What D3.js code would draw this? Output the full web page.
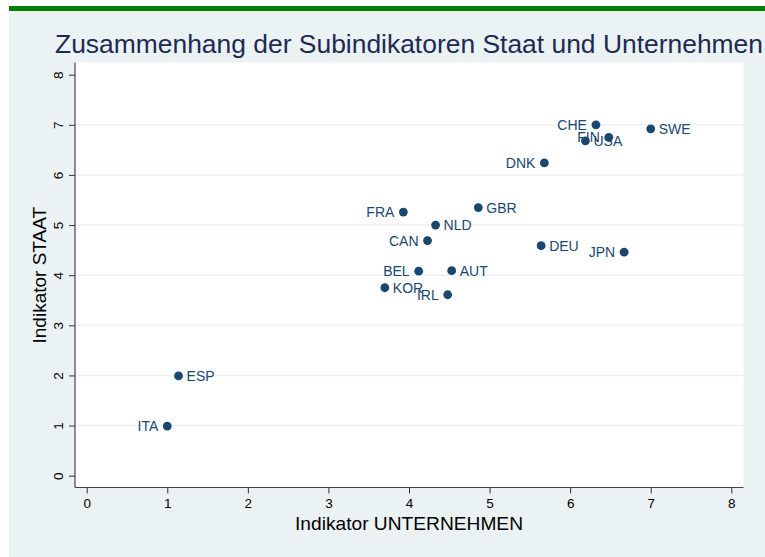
<!DOCTYPE html>
<html>
<head>
<meta charset="utf-8">
<script src="https://cdn.jsdelivr.net/npm/d3@7"></script>
<style>
  html, body { margin: 0; padding: 0; background: #ffffff; }
  svg { display: block; font-family: "Liberation Sans", Arial, sans-serif; }
</style>
</head>
<body>
<svg id="chart" width="765" height="557"></svg>
<script>
// Country codes and their two sub-indicator scores
const countries = ["CHE", "SWE", "FIN", "USA", "DNK", "FRA", "GBR", "NLD", "CAN",
                   "DEU", "JPN", "BEL", "AUT", "KOR", "IRL", "ESP", "ITA"];
const unternehmen = [6.32, 7.00, 6.48, 6.19, 5.68, 3.93, 4.86, 4.33, 4.23,
                     5.64, 6.67, 4.12, 4.53, 3.70, 4.48, 1.14, 1.00];
const staat = [7.00, 6.92, 6.75, 6.68, 6.24, 5.26, 5.35, 5.00, 4.69,
               4.59, 4.46, 4.08, 4.09, 3.75, 3.61, 1.99, 0.99];
// Which side of the marker each country label sits on
const labelSide = ["left", "right", "left", "right", "left", "left", "right", "right", "left",
                   "right", "left", "left", "right", "right", "left", "right", "left"];
const xTicks = [0, 1, 2, 3, 4, 5, 6, 7, 8];
const yTicks = [0, 1, 2, 3, 4, 5, 6, 7, 8];
const gridValues = [1, 2, 3, 4, 5, 6, 7];

const titleText = "Zusammenhang der Subindikatoren Staat und Unternehmen";
const xTitle = "Indikator UNTERNEHMEN";
const yTitle = "Indikator STAAT";

const markColor = "#1a476f";
const bgColor = "#eaf2f3";

const svg = d3.select("#chart");

// graph region and top rule
svg.append("rect").attr("x", 9).attr("y", 11).attr("width", 756).attr("height", 546).attr("fill", bgColor);
svg.append("rect").attr("x", 9).attr("y", 6).attr("width", 756).attr("height", 5).attr("fill", "#008000");

// plot region
const plot = { left: 75, right: 743.5, top: 62.5, bottom: 487.5 };
svg.append("rect")
  .attr("x", plot.left).attr("y", plot.top)
  .attr("width", plot.right - plot.left).attr("height", plot.bottom - plot.top)
  .attr("fill", "#ffffff");

const x = d3.scaleLinear().domain([0, 8]).range([86.7, 731.3]);
const y = d3.scaleLinear().domain([0, 8]).range([475.7, 74.7]);

// horizontal grid
svg.append("g").selectAll("line").data(gridValues).join("line")
  .attr("x1", plot.left).attr("x2", plot.right)
  .attr("y1", d => y(d)).attr("y2", d => y(d))
  .attr("stroke", bgColor).attr("stroke-width", 1.5);

// x axis
const xAxis = svg.append("g")
  .attr("transform", `translate(0,${plot.bottom})`)
  .call(d3.axisBottom(x).tickValues(xTicks).tickFormat(d3.format("d")).tickSize(6).tickPadding(5).tickSizeOuter(0));
xAxis.select(".domain").remove();
xAxis.append("line").attr("x1", plot.left).attr("x2", plot.right).attr("y1", 0).attr("y2", 0)
  .attr("stroke", "#444").attr("stroke-width", 1.2);
xAxis.selectAll(".tick line").attr("stroke", "#333");
xAxis.selectAll(".tick text").attr("fill", "#000").style("font-size", "13.5px")
  .style("font-family", "'Liberation Sans', Arial, sans-serif");

// y axis
const yAxis = svg.append("g")
  .attr("transform", `translate(${plot.left},0)`)
  .call(d3.axisLeft(y).tickValues(yTicks).tickFormat(d3.format("d")).tickSize(6).tickSizeOuter(0));
yAxis.select(".domain").remove();
yAxis.append("line").attr("x1", 0).attr("x2", 0).attr("y1", plot.top).attr("y2", plot.bottom)
  .attr("stroke", "#444").attr("stroke-width", 1.2);
yAxis.selectAll(".tick line").attr("stroke", "#333");
yAxis.selectAll(".tick text")
  .attr("x", 0).attr("dy", null).attr("dx", null)
  .attr("text-anchor", "middle")
  .attr("transform", "translate(-17,0) rotate(-90)")
  .attr("dominant-baseline", "central")
  .attr("fill", "#000").style("font-size", "13.5px")
  .style("font-family", "'Liberation Sans', Arial, sans-serif");

// axis titles
svg.append("text")
  .attr("x", (x(0) + x(8)) / 2).attr("y", 530)
  .attr("text-anchor", "middle").attr("fill", "#000")
  .style("font-size", "19px")
  .attr("textLength", 228).attr("lengthAdjust", "spacingAndGlyphs")
  .text(xTitle);
svg.append("text")
  .attr("transform", `translate(46,${(y(0) + y(8)) / 2}) rotate(-90)`)
  .attr("text-anchor", "middle").attr("fill", "#000")
  .style("font-size", "19px")
  .text(yTitle);

// chart title
svg.append("text")
  .attr("x", 55).attr("y", 53)
  .attr("fill", "#1e2a55")
  .style("font-size", "26px")
  .attr("textLength", 708).attr("lengthAdjust", "spacingAndGlyphs")
  .text(titleText);

// points and labels
const points = countries.map((c, i) => ({ name: c, ux: unternehmen[i], sy: staat[i], side: labelSide[i] }));
const g = svg.append("g");
g.selectAll("circle").data(points).join("circle")
  .attr("cx", d => x(d.ux)).attr("cy", d => y(d.sy))
  .attr("r", 4.4).attr("fill", markColor);
g.selectAll("text").data(points).join("text")
  .attr("x", d => x(d.ux) + (d.side === "right" ? 8 : -9))
  .attr("y", d => y(d.sy))
  .attr("dy", "0.36em")
  .attr("text-anchor", d => d.side === "right" ? "start" : "end")
  .attr("fill", markColor)
  .style("font-size", "14px")
  .text(d => d.name);
</script>
</body>
</html>
